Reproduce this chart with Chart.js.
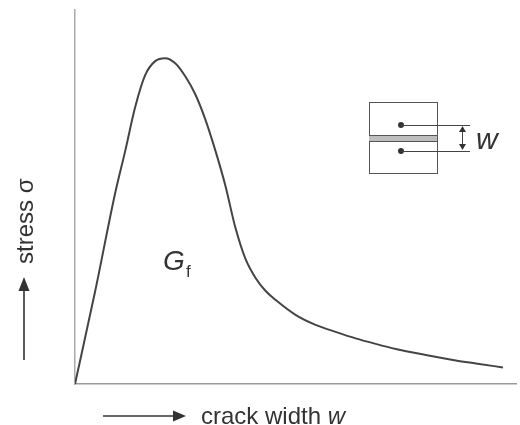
<!DOCTYPE html>
<html>
<head>
<meta charset="utf-8">
<script src="https://cdn.jsdelivr.net/npm/chart.js@4"></script>
<style>
  html, body { margin: 0; padding: 0; background: #fff; }
  #wrap { width: 520px; height: 425px; }
</style>
</head>
<body>
<div id="wrap"><canvas id="c" width="520" height="425"></canvas></div>
<script>
// Softening curve: crack width w (x) against stress sigma (y), arbitrary units
const crackWidth = [0, 0.2, 0.4, 0.5, 0.6, 0.7, 0.8, 0.9, 1.0, 1.1, 1.2, 1.3, 1.4, 1.5, 1.6, 1.7, 1.8, 1.9, 2.0, 2.2, 2.4, 2.6, 2.8, 3.0, 3.2, 3.5, 3.8, 4.0, 4.27];
const stress     = [0, 0.92, 1.90, 2.32, 2.76, 3.08, 3.22, 3.25, 3.20, 3.07, 2.89, 2.64, 2.33, 1.98, 1.56, 1.25, 1.06, 0.93, 0.84, 0.69, 0.59, 0.52, 0.455, 0.40, 0.35, 0.29, 0.235, 0.205, 0.165];
const axisMax = { w: 4.4, sigma: 3.73 };

const points = crackWidth.map((w, i) => ({ x: w, y: stress[i] }));

const FONT = '"Liberation Sans", Arial, sans-serif';

function arrowHead(ctx, x, y, dir, len, half) {
  // dir: 'right' or 'up'
  ctx.beginPath();
  if (dir === 'right') {
    ctx.moveTo(x, y);
    ctx.lineTo(x - len, y - half);
    ctx.lineTo(x - len, y + half);
  } else {
    ctx.moveTo(x, y);
    ctx.lineTo(x - half, y + len);
    ctx.lineTo(x + half, y + len);
  }
  ctx.closePath();
  ctx.fill();
}

const annotations = {
  id: 'annotations',
  afterDraw(chart) {
    const ctx = chart.ctx;
    ctx.save();
    ctx.fillStyle = '#333';
    ctx.strokeStyle = '#333';

    // x-axis title with arrow
    const ty = 416;
    ctx.lineWidth = 1.6;
    ctx.beginPath();
    ctx.moveTo(103, ty);
    ctx.lineTo(175, ty);
    ctx.stroke();
    arrowHead(ctx, 186, ty, 'right', 13, 5.5);
    ctx.font = '24px ' + FONT;
    ctx.textBaseline = 'alphabetic';
    ctx.textAlign = 'left';
    const t1 = 'crack width ';
    ctx.fillText(t1, 201, 424);
    const w1 = ctx.measureText(t1).width;
    ctx.font = 'italic 24px ' + FONT;
    ctx.fillText('w', 201 + w1, 424);

    // y-axis title with arrow
    const tx = 24;
    ctx.beginPath();
    ctx.moveTo(tx, 360);
    ctx.lineTo(tx, 290);
    ctx.stroke();
    arrowHead(ctx, tx, 277, 'up', 14, 5.5);
    ctx.save();
    ctx.translate(33, 264);
    ctx.rotate(-Math.PI / 2);
    ctx.font = '24px ' + FONT;
    ctx.textAlign = 'left';
    ctx.fillText('stress \u03c3', 0, 0);
    ctx.restore();

    // fracture energy label inside the curve
    ctx.font = 'italic 28px ' + FONT;
    ctx.textAlign = 'left';
    ctx.fillText('G', 163, 270);
    ctx.font = '17px ' + FONT;
    ctx.fillText('f', 186, 277);

    // specimen sketch with crack opening w
    const bx = 369, by = 102, bw = 68, bh = 71;
    ctx.lineWidth = 1;
    ctx.strokeStyle = '#555';
    ctx.fillStyle = '#fff';
    ctx.fillRect(bx, by, bw, bh);
    ctx.strokeRect(bx + 0.5, by + 0.5, bw, bh);
    ctx.fillStyle = '#bdbdbd';
    ctx.fillRect(bx, 135, bw, 7);
    ctx.beginPath();
    ctx.moveTo(bx, 135.5); ctx.lineTo(bx + bw, 135.5);
    ctx.moveTo(bx, 141.5); ctx.lineTo(bx + bw, 141.5);
    ctx.stroke();
    ctx.fillStyle = '#333';
    ctx.strokeStyle = '#444';
    [125, 151].forEach(yy => {
      ctx.beginPath();
      ctx.arc(401, yy, 3, 0, Math.PI * 2);
      ctx.fill();
      ctx.beginPath();
      ctx.moveTo(401, yy + 0.5);
      ctx.lineTo(470, yy + 0.5);
      ctx.stroke();
    });
    ctx.beginPath();
    ctx.moveTo(462.5, 128);
    ctx.lineTo(462.5, 148);
    ctx.stroke();
    arrowHead(ctx, 462.5, 126, 'up', 6, 3.5);
    ctx.save();
    ctx.translate(462.5, 150);
    ctx.scale(1, -1);
    arrowHead(ctx, 0, 0, 'up', 6, 3.5);
    ctx.restore();
    ctx.font = 'italic 30px ' + FONT;
    ctx.fillStyle = '#333';
    ctx.fillText('w', 476, 149);

    ctx.restore();
  }
};

new Chart(document.getElementById('c'), {
  type: 'line',
  data: {
    datasets: [{
      data: points,
      borderColor: '#444',
      borderWidth: 2,
      pointRadius: 0,
      fill: false,
      cubicInterpolationMode: 'monotone'
    }]
  },
  options: {
    responsive: false,
    animation: false,
    events: [],
    layout: { padding: { left: 75, right: 4, top: 10, bottom: 41 } },
    plugins: { legend: { display: false }, tooltip: { enabled: false } },
    scales: {
      x: {
        type: 'linear', min: 0, max: axisMax.w,
        grid: { display: false, drawTicks: false },
        ticks: { display: false },
        border: { color: '#9a9a9a', width: 1.5 }
      },
      y: {
        type: 'linear', min: 0, max: axisMax.sigma,
        grid: { display: false, drawTicks: false },
        ticks: { display: false },
        border: { color: '#aaaaaa', width: 1.5 }
      }
    }
  },
  plugins: [annotations]
});
</script>
</body>
</html>
